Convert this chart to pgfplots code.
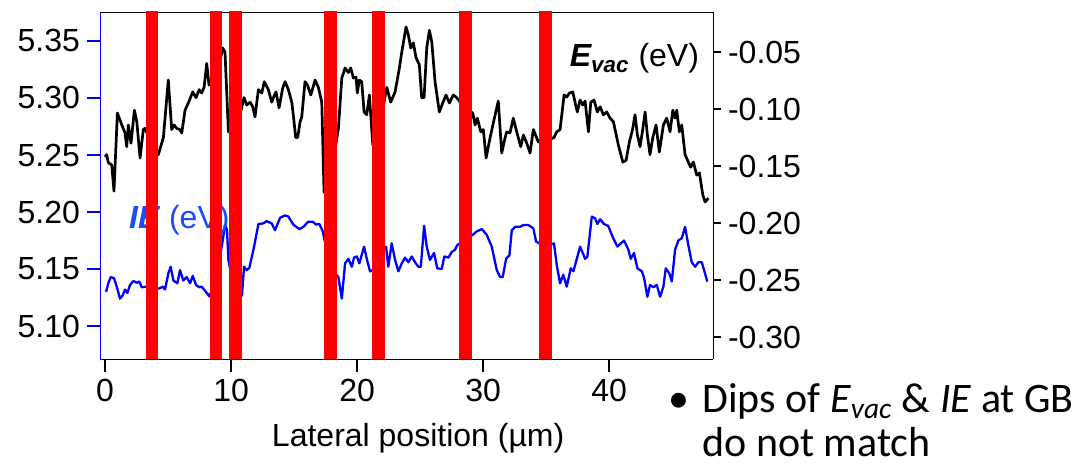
\documentclass[border=0pt]{standalone}
\usepackage{pgfplots}
\pgfplotsset{compat=1.18}
\usepackage{pgfplotstable}
\usepackage{fontspec}
\setmainfont{Liberation Sans}
\newfontfamily\carlito{Carlito}

\definecolor{gbred}{RGB}{255,0,0}
\definecolor{ieblue}{RGB}{0,0,255}
\definecolor{ietext}{RGB}{25,75,255}

% vacuum level profile (right axis, eV)
\pgfplotstableread{
x y
0 -0.142
0.13 -0.140
0.26 -0.147
0.53 -0.149
0.71 -0.172
0.98 -0.1035
1.33 -0.114
1.59 -0.121
1.72 -0.133
1.85 -0.114
2.06 -0.130
2.33 -0.101
2.52 -0.111
2.78 -0.143
3.04 -0.118
3.17 -0.117
3.7 -0.130
4.23 -0.140
4.63 -0.125
5.02 -0.0746
5.29 -0.118
5.48 -0.114
5.69 -0.117
5.95 -0.118
6.09 -0.121
6.35 -0.101
6.61 -0.0947
6.96 -0.085
7.22 -0.090
7.48 -0.083
7.67 -0.086
7.86 -0.081
8.07 -0.060
8.25 -0.079
8.8 -0.075
9.34 -0.0465
9.52 -0.050
9.79 -0.120
10.4 -0.12
11.03 -0.090
11.25 -0.0965
11.51 -0.094
11.72 -0.098
11.90 -0.107
12.17 -0.083
12.44 -0.086
12.64 -0.076
12.96 -0.083
13.23 -0.094
13.36 -0.090
13.57 -0.085
13.81 -0.099
14.10 -0.0816
14.29 -0.076
14.55 -0.083
14.82 -0.094
14.94 -0.105
15.13 -0.125
15.29 -0.125
15.48 -0.111
15.61 -0.107
15.87 -0.076
16.07 -0.079
16.33 -0.0877
16.67 -0.0746
16.93 -0.081
17.20 -0.094
17.38 -0.173
17.9 -0.16
18.52 -0.117
18.79 -0.0728
19.05 -0.064
19.31 -0.068
19.50 -0.064
19.71 -0.0728
19.92 -0.072
20.02 -0.086
20.18 -0.0746
20.37 -0.076
20.56 -0.1026
20.77 -0.105
20.98 -0.0877
21.25 -0.1316
21.7 -0.12
22.36 -0.081
22.67 -0.094
23.02 -0.085
23.36 -0.064
23.55 -0.050
23.89 -0.028
24.07 -0.035
24.26 -0.0465
24.47 -0.042
24.68 -0.055
24.94 -0.061
25.13 -0.090
25.32 -0.090
25.53 -0.0465
25.74 -0.031
25.93 -0.041
26.19 -0.076
26.53 -0.1026
26.80 -0.0947
27.06 -0.0877
27.33 -0.0947
27.64 -0.0877
27.91 -0.090
28.6 -0.10
29.18 -0.1035
29.37 -0.114
29.55 -0.108
29.82 -0.120
30.02 -0.118
30.24 -0.143
30.56 -0.125
30.90 -0.108
31.21 -0.093
31.48 -0.1386
31.75 -0.125
31.88 -0.120
32.14 -0.121
32.40 -0.108
32.67 -0.120
32.99 -0.133
33.20 -0.1228
33.47 -0.130
33.73 -0.1386
33.99 -0.118
34.21 -0.124
34.39 -0.129
35.0 -0.128
35.63 -0.125
35.85 -0.120
36.11 -0.118
36.25 -0.105
36.43 -0.0877
36.64 -0.0895
36.85 -0.086
37.12 -0.085
37.30 -0.094
37.48 -0.1026
37.70 -0.0921
37.91 -0.0965
38.10 -0.093
38.36 -0.120
38.55 -0.094
38.81 -0.0921
39.07 -0.1026
39.29 -0.098
39.55 -0.105
39.82 -0.1026
40.08 -0.108
40.34 -0.111
40.74 -0.1316
41.09 -0.1465
41.35 -0.145
41.61 -0.129
41.88 -0.117
42.06 -0.105
42.25 -0.1228
42.46 -0.133
42.67 -0.118
42.86 -0.1026
43.04 -0.1228
43.25 -0.140
43.47 -0.125
43.73 -0.114
43.99 -0.1377
44.31 -0.114
44.58 -0.108
44.84 -0.120
45.06 -0.101
45.24 -0.108
45.37 -0.101
45.58 -0.120
45.77 -0.114
46.03 -0.140
46.29 -0.1465
46.48 -0.151
46.69 -0.1465
46.96 -0.158
47.17 -0.156
47.44 -0.1754
47.62 -0.1815
47.75 -0.180
47.88 -0.178
}\evac

% ionization energy profile (left axis, eV)
\pgfplotstableread{
x y
0.08 5.130
0.26 5.1375
0.45 5.143
0.71 5.142
0.93 5.1345
1.19 5.124
1.40 5.127
1.59 5.132
1.77 5.129
1.98 5.136
2.25 5.1395
2.52 5.138
2.72 5.139
2.91 5.134
3.17 5.1345
3.7 5.133
4.31 5.133
4.58 5.1345
4.76 5.132
5.02 5.146
5.21 5.152
5.42 5.140
5.74 5.1375
5.95 5.149
6.21 5.140
6.48 5.143
6.75 5.1375
6.96 5.144
7.22 5.136
7.48 5.134
7.67 5.1345
7.86 5.132
8.07 5.129
8.28 5.126
8.8 5.14
9.34 5.175
9.52 5.189
9.68 5.184
9.79 5.158
10.40 5.123
10.87 5.127
11.03 5.152
11.25 5.149
11.45 5.151
11.83 5.1696
12.17 5.1895
12.56 5.190
12.83 5.192
13.23 5.190
13.49 5.184
13.89 5.195
14.29 5.197
14.55 5.196
14.94 5.189
15.42 5.185
15.74 5.187
16.13 5.1915
16.48 5.1915
16.75 5.189
17.01 5.1895
17.28 5.183
17.9 5.15
18.52 5.143
18.79 5.124
19.05 5.155
19.31 5.159
19.58 5.152
19.76 5.160
19.98 5.161
20.18 5.155
20.56 5.1696
20.77 5.159
21.03 5.148
21.25 5.149
21.7 5.16
22.30 5.1696
22.48 5.152
22.75 5.1725
23.02 5.158
23.28 5.148
23.55 5.155
23.81 5.160
24.07 5.156
24.34 5.161
24.60 5.156
24.87 5.152
25.06 5.152
25.32 5.188
25.53 5.1696
25.79 5.158
26.11 5.164
26.37 5.1506
26.72 5.150
26.93 5.161
27.25 5.160
27.52 5.165
27.78 5.167
27.96 5.171
28.6 5.176
29.18 5.180
29.50 5.183
29.90 5.185
30.29 5.180
30.69 5.1696
31.09 5.149
31.35 5.143
31.56 5.143
31.83 5.159
32.09 5.162
32.28 5.184
32.54 5.187
32.94 5.187
33.20 5.1886
33.60 5.1886
33.99 5.1857
34.21 5.174
34.47 5.1725
35.0 5.17
35.63 5.1725
35.85 5.1535
36.11 5.1375
36.37 5.145
36.64 5.1345
36.96 5.1506
37.17 5.148
37.44 5.159
37.70 5.1696
38.10 5.159
38.28 5.161
38.63 5.196
38.89 5.1945
39.07 5.1895
39.29 5.1936
39.60 5.1895
39.94 5.1877
40.29 5.178
40.66 5.1696
40.93 5.1725
41.19 5.175
41.53 5.167
41.72 5.159
41.98 5.164
42.25 5.1506
42.60 5.148
42.78 5.142
43.04 5.1257
43.25 5.136
43.52 5.134
43.79 5.136
44.05 5.1257
44.31 5.1345
44.50 5.1506
44.79 5.146
44.98 5.139
45.24 5.167
45.50 5.175
45.77 5.177
46.03 5.187
46.29 5.171
46.56 5.156
46.83 5.152
47.09 5.156
47.36 5.156
47.54 5.149
47.80 5.139
}\ie

% grain-boundary positions (left and right edge, µm)
\pgfplotstableread{
a b
3.25 4.21
8.33 9.29
9.84 10.87
17.38 18.41
21.19 22.22
28.10 29.13
34.44 35.48
}\gb

\newcommand{\gbband}[2]{%
  \addplot[draw=none, fill=gbred] coordinates {(#1,-1) (#2,-1) (#2,1) (#1,1)} -- cycle;}

\begin{document}
\begin{tikzpicture}[x=1pt,y=1pt]
\path[use as bounding box] (-50,-53) rectangle (487,179.5);
\pgfplotsset{
  common/.style={
    scale only axis, width=306.5pt, height=173.5pt,
    at={(0,0)}, anchor=south west,
    xmin=-0.4, xmax=48.25,
    tick align=outside,
    every axis line/.style={line width=1pt, -},
    tick label style={font=\fontsize{16}{19}\selectfont, text=black},
    /pgf/number format/assume math mode=true,
  }
}
\begin{axis}[common,
  ymin=5.0711, ymax=5.3754,
  axis x line*=bottom, axis y line*=left,
  y axis line style={ieblue},
  ytick={5.10,5.15,5.20,5.25,5.30,5.35},
  yticklabel style={/pgf/number format/.cd, fixed, fixed zerofill, precision=2},
  ytick style={ieblue, line width=1pt},
  xtick={0,10,20,30,40},
  xtick style={black, line width=1pt},
  major tick length=6.5pt,
  xlabel={Lateral position (µm)},
  xlabel style={font=\fontsize{16}{19}\selectfont, at={(axis description cs:0.519,-0.228)}, anchor=center},
]
\addplot[ieblue, line width=1.15pt, line join=round] table {\ie};
\node[anchor=base west, text=ietext, font=\fontsize{16}{19}\selectfont]
  at (axis description cs:0.036,0.3775) {\textbf{\textit{IE}} (eV)};
\end{axis}

\begin{axis}[common,
  ymin=-0.3192, ymax=-0.0149,
  axis x line*=top, axis y line*=right,
  xtick=\empty,
  ytick={-0.30,-0.25,-0.20,-0.15,-0.10,-0.05},
  yticklabel style={/pgf/number format/.cd, fixed, fixed zerofill, precision=2},
  ytick style={black, line width=1pt},
  major tick length=4pt,
]
\addplot[black, line width=1.35pt, line join=round] table {\evac};
\node[anchor=base west, font=\fontsize{16}{19}\selectfont]
  at (axis description cs:0.755,0.8415) {\textbf{\textit{E\textsubscript{vac}}} (eV)};
\pgfplotsforeachungrouped \i in {0,...,6}{%
  \pgfplotstablegetelem{\i}{a}\of\gb\let\ga\pgfplotsretval
  \pgfplotstablegetelem{\i}{b}\of\gb\let\gbb\pgfplotsretval
  \edef\doband{\noexpand\gbband{\ga}{\gbb}}\doband
}
\end{axis}

\node[anchor=base west, font=\carlito\fontsize{21}{21}\selectfont, inner sep=0pt] at (284,-26.5) {\textbullet};
\node[anchor=base west, font=\carlito\fontsize{21}{21}\selectfont, inner sep=0pt, text depth=0pt] at (301,-26.5)
  {Dips of \textit{E}\textsubscript{\textit{vac}} \& \textit{IE} at GB};
\node[anchor=base west, font=\carlito\fontsize{21}{21}\selectfont, inner sep=0pt, text depth=0pt] at (301,-48.5)
  {do not match};
\end{tikzpicture}
\end{document}
